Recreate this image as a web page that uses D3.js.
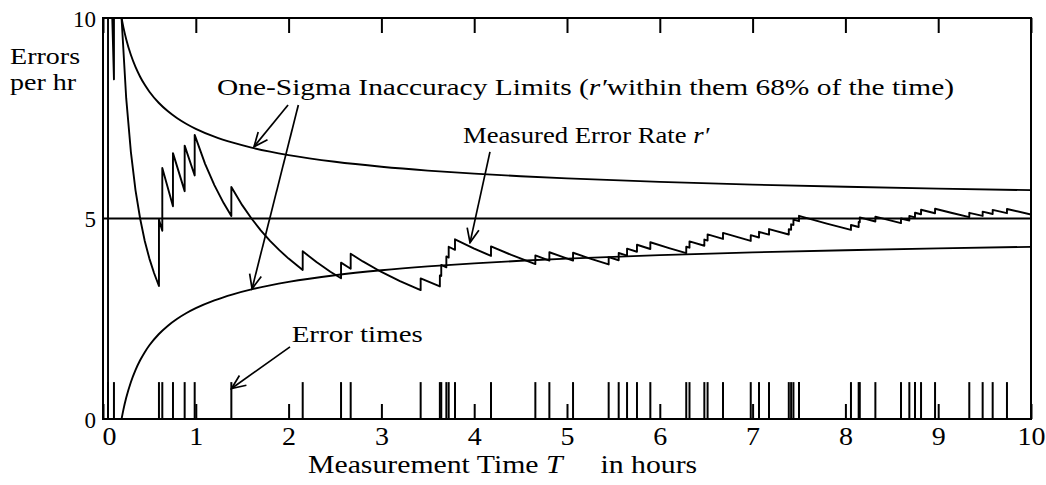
<!DOCTYPE html>
<html><head><meta charset="utf-8">
<script src="https://cdn.jsdelivr.net/npm/d3@7"></script>
<style>html,body{margin:0;padding:0;background:#fff;} svg{display:block;}</style>
</head><body><svg id="c" width="1046" height="485"></svg>
<script>
// ---- data ----
const xTicks = [0,1,2,3,4,5,6,7,8,9,10];
const yTickLabels = [0,5,10];
const trueRate = 5;
const errorTimes = [0.054,0.118,0.603,0.639,0.754,0.880,0.988,1.383,2.152,2.565,2.669,
  3.423,3.630,3.645,3.700,3.725,3.793,4.181,4.659,4.810,5.065,5.449,5.557,5.647,5.754,5.898,
  6.285,6.320,6.480,6.515,6.681,6.980,7.069,7.177,7.390,7.415,7.440,7.500,
  8.060,8.143,8.155,8.323,8.599,8.689,8.750,8.815,8.966,9.335,9.479,9.587,9.741];
const measuredRate = [
  [0.054,0],[0.054,18.52],[0.08,12.5],[0.1,10],[0.118,8.47],[0.118,16.95],
  [0.15,13.33],[0.2,10],[0.25,8],[0.3,6.67],[0.35,5.71],[0.4,5],[0.45,4.44],[0.5,4],[0.55,3.64],
  [0.603,3.317],[0.603,4.975],[0.639,4.695],[0.639,6.260],[0.754,5.305],[0.754,6.631],
  [0.88,5.682],[0.88,6.818],[0.988,6.073],[0.988,7.085],[1.1,6.364],[1.2,5.833],[1.3,5.385],
  [1.383,5.061],[1.383,5.785],[1.5,5.333],[1.6,5.0],[1.7,4.706],[1.8,4.444],[1.9,4.211],[2.0,4.0],
  [2.152,3.717],[2.152,4.182],[2.3,3.913],[2.45,3.673],[2.565,3.509],[2.565,3.899],
  [2.669,3.747],[2.669,4.121],[2.8,3.929],[3.0,3.667],[3.2,3.438],[3.423,3.214],[3.423,3.506],
  [3.63,3.306],[3.63,3.581],[3.645,3.567],[3.645,3.841],[3.7,3.784],[3.7,4.054],
  [3.725,4.027],[3.725,4.295],[3.793,4.218],[3.793,4.482],[4.0,4.25],[4.181,4.066],[4.181,4.305],
  [4.4,4.091],[4.659,3.863],[4.659,4.078],[4.81,3.950],[4.81,4.158],[5.065,3.949],[5.065,4.146],
  [5.25,4.0],[5.449,3.854],[5.449,4.038],[5.557,3.959],[5.557,4.139],[5.647,4.073],[5.647,4.250],
  [5.754,4.171],[5.754,4.345],[5.898,4.239],[5.898,4.408],[6.1,4.262],[6.285,4.137],[6.285,4.296],
  [6.32,4.272],[6.32,4.430],[6.48,4.321],[6.48,4.475],[6.515,4.451],[6.515,4.605],
  [6.681,4.490],[6.681,4.640],[6.98,4.441],[6.98,4.585],[7.069,4.527],[7.069,4.668],
  [7.177,4.598],[7.177,4.737],[7.39,4.601],[7.39,4.736],[7.415,4.720],[7.415,4.855],
  [7.44,4.839],[7.44,4.973],[7.5,4.933],[7.5,5.067],[7.8,4.872],[8.06,4.715],[8.06,4.839],
  [8.143,4.789],[8.143,4.912],[8.155,4.905],[8.155,5.028],[8.323,4.926],[8.323,5.046],
  [8.599,4.884],[8.599,5.001],[8.689,4.949],[8.689,5.064],[8.75,5.029],[8.75,5.143],
  [8.815,5.105],[8.815,5.218],[8.966,5.131],[8.966,5.242],[9.15,5.137],[9.335,5.035],[9.335,5.142],
  [9.479,5.064],[9.479,5.170],[9.587,5.111],[9.587,5.216],[9.741,5.133],[9.741,5.236],[10,5.1]];
const sigmaTimes = [0.2,0.22,0.25,0.3,0.35,0.4,0.45,0.5,0.6,0.7,0.8,0.9,1.0,1.2,1.4,1.6,1.8,2.0,2.5,3.0,3.5,4.0,4.5,5.0,6.0,7.0,8.0,9.0,10];
const upperLimit = [10,9.767,9.472,9.082,8.780,8.536,8.333,8.162,7.887,7.673,7.5,7.357,7.236,7.041,6.890,6.768,6.667,6.581,6.414,6.291,6.195,6.118,6.054,6.0,5.913,5.845,5.791,5.745,5.707];
const lowerLimit = [0,0.233,0.528,0.918,1.220,1.464,1.667,1.838,2.113,2.327,2.5,2.643,2.764,2.959,3.110,3.232,3.333,3.419,3.586,3.709,3.805,3.882,3.946,4.0,4.087,4.155,4.209,4.255,4.293];
const errorMarkHeight = 0.92;
// annotations (data coordinates)
const arrows = [
  {from:[1.994,7.83], to:[1.627,6.79]},
  {from:[2.105,7.83], to:[1.606,3.25]},
  {from:[4.17,6.66],  to:[3.955,4.40]},
  {from:[2.015,1.80], to:[1.385,0.76]}
];

// ---- drawing ----
const svg = d3.select("#c");
const x = d3.scaleLinear([0,10],[103,1031]);
const y = d3.scaleLinear([0,10],[419,18]);
const FONT = "'Liberation Serif','Times New Roman',serif";

svg.append("defs").append("clipPath").attr("id","clip")
  .append("rect").attr("x",x(0)).attr("y",y(10)).attr("width",x(10)-x(0)).attr("height",y(0)-y(10));
const mk = svg.select("defs").append("marker").attr("id","ah")
  .attr("markerUnits","userSpaceOnUse").attr("viewBox","-16 -8 18 16")
  .attr("markerWidth",18).attr("markerHeight",16).attr("refX",0).attr("refY",0).attr("orient","auto");
mk.append("path").attr("d","M-14,-6 L0,0 L-14,6").attr("fill","none").attr("stroke","#000").attr("stroke-width",1.7);

const plot = svg.append("g").attr("clip-path","url(#clip)");

// true rate line
plot.append("line").attr("x1",x(0)).attr("x2",x(10)).attr("y1",y(trueRate)).attr("y2",y(trueRate))
  .attr("stroke","#000").attr("stroke-width",2);

// sigma limits
const lim = d3.line().x(d=>x(d[0])).y(d=>y(d[1])).curve(d3.curveMonotoneX);
plot.append("path").datum(sigmaTimes.map((t,i)=>[t,upperLimit[i]])).attr("d",lim)
  .attr("fill","none").attr("stroke","#000").attr("stroke-width",1.9);
plot.append("path").datum(sigmaTimes.map((t,i)=>[t,lowerLimit[i]])).attr("d",lim)
  .attr("fill","none").attr("stroke","#000").attr("stroke-width",1.9);

// measured rate
plot.append("path").datum(measuredRate).attr("d",d3.line().x(d=>x(d[0])).y(d=>y(d[1])))
  .attr("fill","none").attr("stroke","#000").attr("stroke-width",1.9).attr("stroke-linejoin","round");

// error time marks
plot.selectAll("line.err").data(errorTimes).join("line").attr("class","err")
  .attr("x1",d=>x(d)).attr("x2",d=>x(d)).attr("y1",y(0)).attr("y2",y(errorMarkHeight))
  .attr("stroke","#000").attr("stroke-width",2);

// axes
const axB = svg.append("g").attr("transform",`translate(0,${y(0)})`)
  .call(d3.axisBottom(x).tickValues(xTicks).tickSize(-15).tickSizeOuter(0).tickFormat(d3.format("d")));
const axT = svg.append("g").attr("transform",`translate(0,${y(10)})`)
  .call(d3.axisTop(x).tickValues(xTicks).tickSize(-15).tickSizeOuter(0).tickFormat(""));
const axL = svg.append("g").attr("transform",`translate(${x(0)},0)`)
  .call(d3.axisLeft(y).tickValues(yTickLabels).tickSize(0).tickPadding(7).tickFormat(d3.format("d")));
[axB,axT,axL].forEach(g=>{
  g.select(".domain").remove();
  g.selectAll(".tick line").attr("stroke","#000").attr("stroke-width",2);
  g.selectAll("text").attr("font-family",FONT).attr("fill","#000");
});
axB.selectAll("text").attr("font-size",25).attr("dy",0).attr("y",26)
  .attr("transform",d=>`translate(${d===0?6:0},0) scale(1.12,1)`);
axL.selectAll("text").attr("font-size",23).attr("dy","0.35em");

// frame
svg.append("rect").attr("x",x(0)).attr("y",y(10)).attr("width",x(10)-x(0)).attr("height",y(0)-y(10))
  .attr("fill","none").attr("stroke","#000").attr("stroke-width",2);

// text helper
function label(px, py, parts, size, sx){
  const t = svg.append("text").attr("transform",`translate(${px},${py}) scale(${sx},1)`)
    .attr("font-family",FONT).attr("font-size",size).attr("fill","#000");
  parts.forEach(p=>{
    const s = t.append("tspan").text(p.t);
    if(p.i) s.attr("font-style","italic");
    if(p.dx) s.attr("dx",p.dx);
  });
  return t;
}
label(10, 64, [{t:"Errors"}], 23, 1.22);
label(10, 90, [{t:"per hr"}], 23, 1.22);
label(x(1.228), y(8.08), [{t:"One-Sigma Inaccuracy Limits ("},{t:"r′",i:1},{t:"within them 68% of the time)"}], 23, 1.28);
label(x(3.879), y(6.88), [{t:"Measured Error Rate "},{t:"r′",i:1}], 23, 1.16);
label(x(2.033), y(1.93), [{t:"Error times"}], 23, 1.26);
label(308, 473, [{t:"Measurement Time "},{t:"T",i:1},{t:"in hours",dx:32}], 25, 1.19);

// arrows
svg.selectAll("line.arr").data(arrows).join("line").attr("class","arr")
  .attr("x1",d=>x(d.from[0])).attr("y1",d=>y(d.from[1]))
  .attr("x2",d=>x(d.to[0])).attr("y2",d=>y(d.to[1]))
  .attr("stroke","#000").attr("stroke-width",1.7).attr("marker-end","url(#ah)");
</script></body></html>
